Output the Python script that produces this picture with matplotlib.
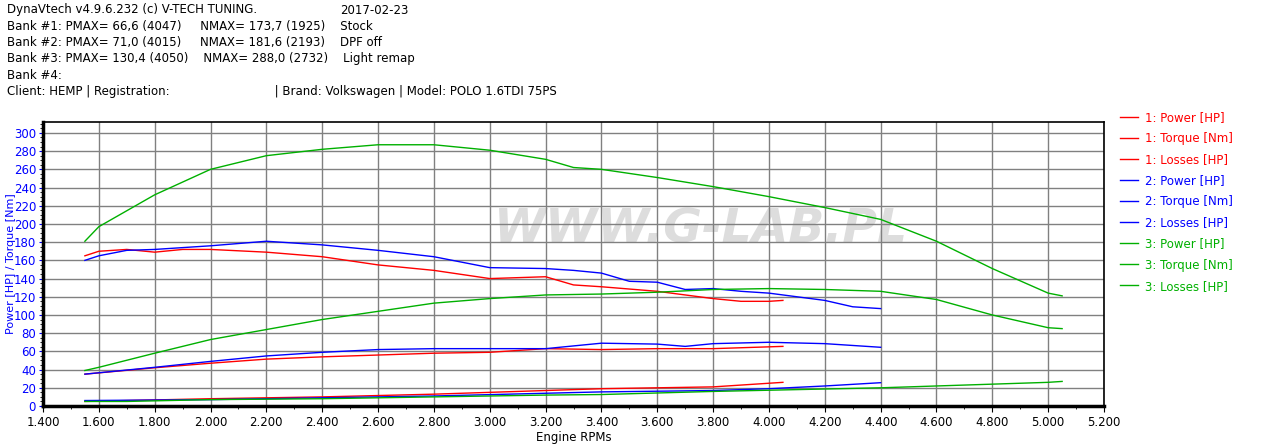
import matplotlib
matplotlib.use("Agg")
import matplotlib.pyplot as plt
from matplotlib.ticker import MultipleLocator, FuncFormatter

rpm1 = [1550,1600,1700,1800,1900,2000,2200,2400,2600,2800,3000,3200,3300,3400,3600,3800,3900,4000,4050]
torque1 = [165,170,172,169,172,172,169,164,155,149,140,142,133,131,126,118,115,115,116]
rpm1b = [1550,1800,2000,2200,2400,2600,2800,3000,3200,3400,3600,3800,4000,4050]
power1 = [35,42,47,51.5,54,56,58,59,63,62,63,63,65,65.5]
rpm1c = [1550,2000,2400,2800,3000,3200,3400,3800,4000,4050]
loss1 = [5,8,10,13,15,17,19,21,25,26]

rpm2 = [1550,1600,1700,1800,2000,2200,2400,2600,2800,3000,3200,3300,3400,3500,3600,3700,3800,3900,4000,4200,4300,4400]
torque2 = [160,165,171,172,176,181,177,171,164,152,151,149,146,137,136,128,129,126,124,116,109,107]
rpm2b = [1550,1800,2000,2200,2400,2600,2800,3000,3200,3300,3400,3600,3700,3800,4000,4200,4400]
power2 = [35,42.5,49,55,59,62,63,63,63,66,69,68,65.5,68.5,70,68.5,64.5]
rpm2c = [1550,2000,2400,2800,3200,3400,3800,4000,4200,4400]
loss2 = [6,7,9,11,14,15.5,17,19,22,25.6]

rpm3 = [1550,1600,1800,2000,2200,2400,2600,2800,3000,3200,3300,3400,3600,3800,4000,4200,4400,4600,4800,5000,5050]
torque3 = [181,197,232,260,275,282,287,287,281,271,262,260,251,241,230,218,205,181,151,124,121]
power3 = [39,42.5,58,73,84,95,104,113,118,122,122.5,123,125,128,129,128,126,117,100,86,85]
rpm3c = [1550,1700,2000,2400,2800,3000,3200,3400,3800,4400,4600,4800,5000,5050]
loss3 = [5,5,7,8,10,11,12,12.6,16,20,22,24,26,27]

header = [
    ("DynaVtech v4.9.6.232 (c) V-TECH TUNING.", 7, "2017-02-23", 340),
    ("Bank #1: PMAX= 66,6 (4047)     NMAX= 173,7 (1925)    Stock", 7, None, 0),
    ("Bank #2: PMAX= 71,0 (4015)     NMAX= 181,6 (2193)    DPF off", 7, None, 0),
    ("Bank #3: PMAX= 130,4 (4050)    NMAX= 288,0 (2732)    Light remap", 7, None, 0),
    ("Bank #4:", 7, None, 0),
    ("Client: HEMP | Registration:                            | Brand: Volkswagen | Model: POLO 1.6TDI 75PS", 7, None, 0),
]

RED, BLUE, GREEN = "#ff0000", "#0000ff", "#00b000"
W, H = 1264, 447
fig = plt.figure(figsize=(W/100, H/100), dpi=100)
ax = fig.add_axes([43/W, (H-406)/H, (1104-43)/W, (406-122)/H])

ax.text(0.62, 0.62, "WWW.G-LAB.PL", transform=ax.transAxes, fontsize=34, style="italic",
        weight="bold", color="#dddddd", ha="center", va="center", zorder=0)

lw = 1.0
ax.plot(rpm1b, power1, color=RED, lw=lw, label="1: Power [HP]")
ax.plot(rpm1, torque1, color=RED, lw=lw, label="1: Torque [Nm]")
ax.plot(rpm1c, loss1, color=RED, lw=lw, label="1: Losses [HP]")
ax.plot(rpm2b, power2, color=BLUE, lw=lw, label="2: Power [HP]")
ax.plot(rpm2, torque2, color=BLUE, lw=lw, label="2: Torque [Nm]")
ax.plot(rpm2c, loss2, color=BLUE, lw=lw, label="2: Losses [HP]")
ax.plot(rpm3, power3, color=GREEN, lw=lw, label="3: Power [HP]")
ax.plot(rpm3, torque3, color=GREEN, lw=lw, label="3: Torque [Nm]")
ax.plot(rpm3c, loss3, color=GREEN, lw=lw, label="3: Losses [HP]")

ax.set_xlim(1400, 5200)
ax.set_ylim(0, 312)
ax.xaxis.set_major_locator(MultipleLocator(200))
ax.xaxis.set_minor_locator(MultipleLocator(100))
ax.yaxis.set_major_locator(MultipleLocator(20))
ax.yaxis.set_minor_locator(MultipleLocator(5))
ax.xaxis.set_major_formatter(FuncFormatter(lambda v, p: f"{int(v)//1000}.{int(v)%1000:03d}"))
ax.grid(True, which="major", color="#808080", lw=1)
ax.tick_params(axis="y", colors=BLUE, labelsize=8.5, direction="out", length=3, pad=2, labelcolor=BLUE)
ax.tick_params(axis="x", labelsize=8.5, length=4)
ax.tick_params(which="minor", length=2)
for s in ax.spines.values():
    s.set_linewidth(1.2)
ax.spines["bottom"].set_linewidth(2.5)
ax.spines["left"].set_linewidth(2.5)
ax.set_xlabel("Engine RPMs", fontsize=8.5, labelpad=1)
ax.set_ylabel("Power [HP] / Torque [Nm]", fontsize=8, color=BLUE)
ax.yaxis.set_label_coords(-27/(1104-43), 0.5)

leg = ax.legend(loc="upper left", bbox_to_anchor=(1.005, 1.075), frameon=False, fontsize=8.5,
                handlelength=1.5, labelspacing=0.68, handletextpad=0.6)
for t, l in zip(leg.get_texts(), leg.get_lines()):
    t.set_color(l.get_color())

for i, (t, x, t2, x2) in enumerate(header):
    y = H - (10 + i*16.3)
    fig.text(x/W, y/H, t, fontsize=8.5, va="center", ha="left")
    if t2:
        fig.text(x2/W, y/H, t2, fontsize=8.5, va="center", ha="left")

fig.savefig("out.png", dpi=100)
